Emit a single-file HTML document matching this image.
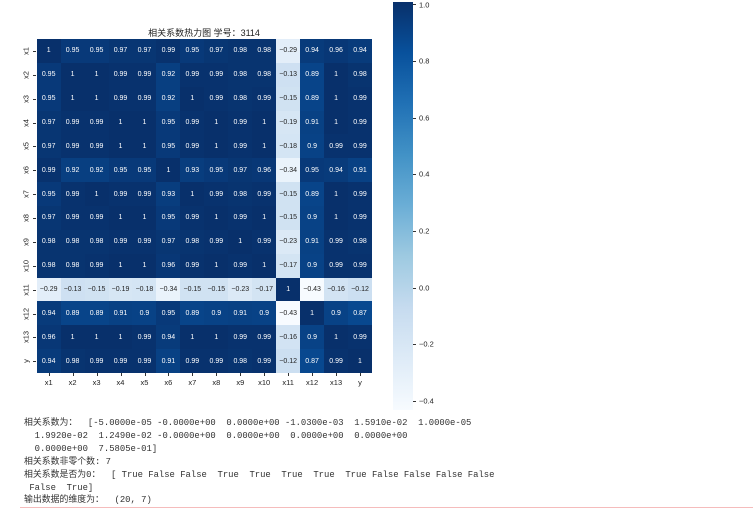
<!DOCTYPE html>
<html><head><meta charset="utf-8"><style>
body{margin:0;width:753px;height:509px;background:#fff;position:relative;overflow:hidden;font-family:"Liberation Sans","Noto Sans CJK SC",sans-serif}
#hm{position:absolute;left:36.7px;top:39px;width:335.3px;height:334px;display:grid;grid-template-columns:repeat(14,1fr);grid-template-rows:repeat(14,1fr)}
#hm div{display:flex;align-items:center;justify-content:center;font-size:7px;color:#fff;font-family:"Liberation Sans",sans-serif}
.title{position:absolute;left:0;width:408px;top:26px;text-align:center;font-size:9px;color:#222}
.xl{position:absolute;top:378px;font-size:7.5px;color:#222;transform:translateX(-50%)}
.yl{position:absolute;left:26px;font-size:7.5px;color:#222;transform:translate(-50%,-50%) rotate(-90deg)}
.xt{position:absolute;top:373px;width:1px;height:3px;background:#333}
.yt{position:absolute;left:33px;width:3px;height:1px;background:#333}
#cb{position:absolute;left:393px;top:2px;width:20px;height:408px;background:linear-gradient(to bottom,#08306b 0%,#08519c 12.5%,#2171b5 25%,#4292c6 37.5%,#6baed6 50%,#9ecae1 62.5%,#c6dbef 75%,#deebf7 87.5%,#f7fbff 100%)}
.ct{position:absolute;left:413px;width:3px;height:1px;background:#333}
.cl{position:absolute;left:419px;font-size:7.5px;color:#222;transform:translateY(-50%)}
pre{position:absolute;left:24px;top:417px;margin:0;font-family:"Liberation Mono","Noto Sans CJK SC",monospace;font-size:8.9px;line-height:12.9px;color:#333}
.pl{position:absolute;left:20px;top:507px;width:733px;height:1px;background:#f5bcbc}
</style></head><body>
<div class="title">相关系数热力图 学号：3114</div>
<div id="hm">
<div>1</div><div>0.95</div><div>0.95</div><div>0.97</div><div>0.97</div><div>0.99</div><div>0.95</div><div>0.97</div><div>0.98</div><div>0.98</div><div>−0.29</div><div>0.94</div><div>0.96</div><div>0.94</div>
<div>0.95</div><div>1</div><div>1</div><div>0.99</div><div>0.99</div><div>0.92</div><div>0.99</div><div>0.99</div><div>0.98</div><div>0.98</div><div>−0.13</div><div>0.89</div><div>1</div><div>0.98</div>
<div>0.95</div><div>1</div><div>1</div><div>0.99</div><div>0.99</div><div>0.92</div><div>1</div><div>0.99</div><div>0.98</div><div>0.99</div><div>−0.15</div><div>0.89</div><div>1</div><div>0.99</div>
<div>0.97</div><div>0.99</div><div>0.99</div><div>1</div><div>1</div><div>0.95</div><div>0.99</div><div>1</div><div>0.99</div><div>1</div><div>−0.19</div><div>0.91</div><div>1</div><div>0.99</div>
<div>0.97</div><div>0.99</div><div>0.99</div><div>1</div><div>1</div><div>0.95</div><div>0.99</div><div>1</div><div>0.99</div><div>1</div><div>−0.18</div><div>0.9</div><div>0.99</div><div>0.99</div>
<div>0.99</div><div>0.92</div><div>0.92</div><div>0.95</div><div>0.95</div><div>1</div><div>0.93</div><div>0.95</div><div>0.97</div><div>0.96</div><div>−0.34</div><div>0.95</div><div>0.94</div><div>0.91</div>
<div>0.95</div><div>0.99</div><div>1</div><div>0.99</div><div>0.99</div><div>0.93</div><div>1</div><div>0.99</div><div>0.98</div><div>0.99</div><div>−0.15</div><div>0.89</div><div>1</div><div>0.99</div>
<div>0.97</div><div>0.99</div><div>0.99</div><div>1</div><div>1</div><div>0.95</div><div>0.99</div><div>1</div><div>0.99</div><div>1</div><div>−0.15</div><div>0.9</div><div>1</div><div>0.99</div>
<div>0.98</div><div>0.98</div><div>0.98</div><div>0.99</div><div>0.99</div><div>0.97</div><div>0.98</div><div>0.99</div><div>1</div><div>0.99</div><div>−0.23</div><div>0.91</div><div>0.99</div><div>0.98</div>
<div>0.98</div><div>0.98</div><div>0.99</div><div>1</div><div>1</div><div>0.96</div><div>0.99</div><div>1</div><div>0.99</div><div>1</div><div>−0.17</div><div>0.9</div><div>0.99</div><div>0.99</div>
<div>−0.29</div><div>−0.13</div><div>−0.15</div><div>−0.19</div><div>−0.18</div><div>−0.34</div><div>−0.15</div><div>−0.15</div><div>−0.23</div><div>−0.17</div><div>1</div><div>−0.43</div><div>−0.16</div><div>−0.12</div>
<div>0.94</div><div>0.89</div><div>0.89</div><div>0.91</div><div>0.9</div><div>0.95</div><div>0.89</div><div>0.9</div><div>0.91</div><div>0.9</div><div>−0.43</div><div>1</div><div>0.9</div><div>0.87</div>
<div>0.96</div><div>1</div><div>1</div><div>1</div><div>0.99</div><div>0.94</div><div>1</div><div>1</div><div>0.99</div><div>0.99</div><div>−0.16</div><div>0.9</div><div>1</div><div>0.99</div>
<div>0.94</div><div>0.98</div><div>0.99</div><div>0.99</div><div>0.99</div><div>0.91</div><div>0.99</div><div>0.99</div><div>0.98</div><div>0.99</div><div>−0.12</div><div>0.87</div><div>0.99</div><div>1</div>
</div>
<div id="labs"></div>
<div id="cb"></div>
<div class="ct" style="top:4px"></div><div class="cl" style="top:5px">1.0</div>
<div class="ct" style="top:61px"></div><div class="cl" style="top:61px">0.8</div>
<div class="ct" style="top:118px"></div><div class="cl" style="top:118px">0.6</div>
<div class="ct" style="top:174px"></div><div class="cl" style="top:174px">0.4</div>
<div class="ct" style="top:231px"></div><div class="cl" style="top:231px">0.2</div>
<div class="ct" style="top:288px"></div><div class="cl" style="top:288px">0.0</div>
<div class="ct" style="top:344px"></div><div class="cl" style="top:344px">−0.2</div>
<div class="ct" style="top:401px"></div><div class="cl" style="top:401px">−0.4</div>
<div class="xl" style="left:48.7px">x1</div><div class="xl" style="left:72.6px">x2</div><div class="xl" style="left:96.6px">x3</div><div class="xl" style="left:120.5px">x4</div><div class="xl" style="left:144.5px">x5</div><div class="xl" style="left:168.4px">x6</div><div class="xl" style="left:192.4px">x7</div><div class="xl" style="left:216.3px">x8</div><div class="xl" style="left:240.3px">x9</div><div class="xl" style="left:264.2px">x10</div><div class="xl" style="left:288.2px">x11</div><div class="xl" style="left:312.1px">x12</div><div class="xl" style="left:336.1px">x13</div><div class="xl" style="left:360px">y</div>
<div class="yl" style="top:50.9px">x1</div><div class="yl" style="top:74.8px">x2</div><div class="yl" style="top:98.6px">x3</div><div class="yl" style="top:122.5px">x4</div><div class="yl" style="top:146.4px">x5</div><div class="yl" style="top:170.2px">x6</div><div class="yl" style="top:194.1px">x7</div><div class="yl" style="top:218px">x8</div><div class="yl" style="top:241.9px">x9</div><div class="yl" style="top:265.7px">x10</div><div class="yl" style="top:289.6px">x11</div><div class="yl" style="top:313.5px">x12</div><div class="yl" style="top:337.3px">x13</div><div class="yl" style="top:361.2px">y</div>
<pre>相关系数为：  [-5.0000e-05 -0.0000e+00  0.0000e+00 -1.0300e-03  1.5910e-02  1.0000e-05
  1.9920e-02  1.2490e-02 -0.0000e+00  0.0000e+00  0.0000e+00  0.0000e+00
  0.0000e+00  7.5805e-01]
相关系数非零个数: 7
相关系数是否为0：  [ True False False  True  True  True  True  True False False False False
 False  True]
输出数据的维度为：  (20, 7)</pre>
<div class="pl"></div>
<script>
var st=[[0,[247,251,255]],[.125,[222,235,247]],[.25,[198,219,239]],[.375,[158,202,225]],[.5,[107,174,214]],[.625,[66,146,198]],[.75,[33,113,181]],[.875,[8,81,156]],[1,[8,48,107]]];
function col(t){for(var i=0;i<st.length-1;i++){if(t<=st[i+1][0]){var f=(t-st[i][0])/(st[i+1][0]-st[i][0]);return st[i][1].map(function(a,k){return Math.round(a+(st[i+1][1][k]-a)*f)})}}return st[8][1];}
var cells=document.querySelectorAll('#hm div');
var xs=[48.7,72.6,96.6,120.5,144.5,168.4,192.4,216.3,240.3,264.2,288.2,312.1,336.1,360];
cells.forEach(function(d){var v=parseFloat(d.textContent.replace('−','-'));var t=(v+0.43)/1.43;var c=col(Math.max(0,Math.min(1,t)));d.style.background='rgb('+c+')';var L=(0.299*c[0]+0.587*c[1]+0.114*c[2])/255;d.style.color=L>0.55?'#222':'#fff';});
var h='';xs.forEach(function(x){h+='<div class="xt" style="left:'+x+'px"></div>';});
[50.9,74.8,98.6,122.5,146.4,170.2,194.1,218,241.9,265.7,289.6,313.5,337.3,361.2].forEach(function(y){h+='<div class="yt" style="top:'+y+'px"></div>';});
document.getElementById('labs').innerHTML=h;
</script>
</body></html>
